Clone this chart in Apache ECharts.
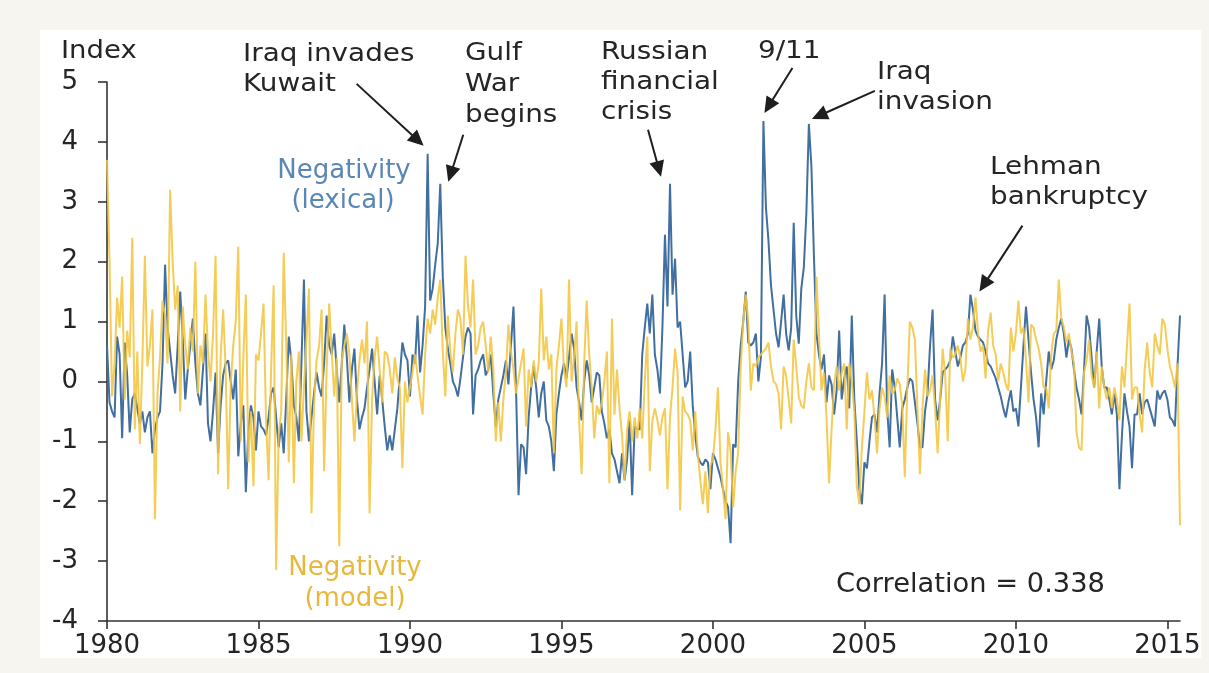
<!DOCTYPE html>
<html>
<head>
<meta charset="utf-8">
<title>Negativity indices, 1980-2015</title>
<script src="https://cdn.jsdelivr.net/npm/echarts@6/dist/echarts.min.js"></script>
<style>
  html, body { margin: 0; padding: 0; background: #f7f5ef; }
  #panel { position: absolute; left: 40px; top: 30px; width: 1161px; height: 628px; background: #ffffff; }
  #chart { position: absolute; left: 0; top: 0; width: 1209px; height: 673px; }
</style>
</head>
<body>
<div id="panel"></div>
<div id="chart"></div>
<script>
// Monthly series, January 1980 onward (one row per year).
const firstYear = 1980;

const lexical = [
  0.6, -0.35, -0.5, -0.6, 0.75, 0.45, -0.95, 0.65, 0.1, -0.85, -0.3, -0.2,
  -0.45, -0.7, -0.5, -0.85, -0.6, -0.5, -1.2, -0.8, -0.6, -0.5, 0.3, 1.95,
  0.9, 0.5, 0.1, -0.2, 0.6, 1.5, 0.7, -0.3, 0.2, 0.6, 1.05, 0.3,
  -0.2, -0.4, 0.2, 0.8, -0.7, -1.0, -0.5, 0.15, -1.2, -0.4, 0.1, 0.3,
  0.35, 0.0, -0.3, 0.2, -1.25, -0.7, -0.4, -1.85, -0.8, -0.4, -0.6, -1.15,
  -0.5, -0.75, -0.8, -0.9, -0.6, -0.2, -0.1, -0.6, -1.1, -0.7, -1.2, -0.3,
  0.75, 0.35, -0.4, -0.6, -1.0, 0.3, 1.7, -0.5, -1.0, -0.6, -0.2, 0.15,
  -0.1, -0.25, 0.3, 1.1, 0.6, 0.45, 0.8, 0.2, -0.35, 0.3, 0.95, 0.4,
  -0.35, 0.2, 0.55, -0.3, -0.8, -0.6, -0.45, -0.1, 0.2, 0.55, 0.0, -0.55,
  0.1, -0.3, -0.75, -1.15, -0.9, -1.15, -0.8, -0.45, 0.1, 0.65, 0.45, 0.35,
  -0.25, 0.45, 0.3, 1.1, 0.15, 0.6, 1.25, 3.8, 1.35, 1.55, 1.95, 2.3,
  3.3, 1.75, 0.9, 0.55, 0.3, 0.0, -0.1, -0.25, 0.05, 0.4, 0.75, 0.9,
  0.8, -0.55, 0.1, 0.2, 0.35, 0.45, 0.1, 0.2, 0.45, -0.2, -0.75, -0.3,
  -0.1, 0.1, 0.35, -0.05, 0.6, 1.25, -0.1, -1.9, -1.05, -1.1, -1.55, -0.6,
  -0.1, 0.25, -0.1, -0.6, -0.2, 0.0, -0.65, -0.75, -1.0, -1.5, -0.55, -0.2,
  0.1, 0.3, 0.05, 0.4, 0.8, 0.55, -0.1, -0.35, -0.65, 0.0, 0.35, 0.1,
  -0.35, -0.1, 0.15, 0.1, -0.5, -0.7, -0.95, -0.8, -1.2, -1.3, -1.5, -1.7,
  -1.2, -1.65, -1.3, -0.65, -1.9, -0.75, -0.8, -0.8, 0.45, 0.9, 1.3, 0.8,
  1.45, 0.45, 0.2, -0.2, 0.9, 2.45, 1.25, 3.3, 1.45, 2.05, 0.9, 1.0,
  0.45, -0.1, 0.0, 0.5, -0.4, -0.9, -1.25, -1.35, -1.4, -1.3, -1.35, -1.8,
  -1.2, -1.3, -1.45, -1.6, -1.8, -2.0, -2.1, -2.7, -1.05, -1.1, 0.0, 0.6,
  1.0, 1.5, 0.65, 0.6, 0.65, 0.8, 0.0, 0.4, 4.35, 2.9, 2.35, 1.6,
  1.2, 0.8, 0.57, 1.0, 1.45, 0.8, 0.52, 0.9, 2.65, 1.1, 0.63, 1.55,
  1.9, 2.8, 4.3, 3.6, 2.1, 0.8, 0.45, 0.2, 0.45, -0.35, 0.1, -0.05,
  -0.55, -0.15, 0.85, -0.3, 0.05, 0.25, -0.45, 1.1, -0.3, -1.0, -1.8, -2.05,
  -1.35, -1.45, -1.0, -0.6, -0.55, -0.85, -0.2, 0.3, 1.45, -0.45, -1.1, 0.2,
  -0.1, -0.6, -1.1, -0.45, -0.3, -0.1, 0.05, 0.0, -0.35, -0.7, -1.1, -1.1,
  -0.5, -0.2, 0.6, 1.2, -0.3, -0.65, -0.3, 0.15, 0.2, 0.25, 0.35, 0.75,
  0.5, 0.25, 0.4, 0.6, 0.65, 0.8, 1.45, 1.2, 0.85, 0.75, 0.7, 0.65,
  0.5, 0.3, 0.25, 0.15, 0.05, -0.1, -0.25, -0.45, -0.6, -0.35, -0.15, -0.5,
  -0.45, -0.75, -0.1, 0.6, 1.25, 0.7, 0.15, -0.3, -0.6, -1.1, -0.2, -0.55,
  0.0, 0.5, 0.2, 0.35, 0.7, 0.9, 1.05, 0.8, 0.4, 0.7, 0.55, 0.2,
  -0.1, -0.3, -0.55, 0.2, 1.1, 0.9, 0.4, -0.1, 0.5, 1.05, 0.25, -0.1,
  -0.1, -0.3, -0.55, -0.2, -0.55, -1.8, -0.9, -0.2, -0.5, -0.75, -1.45, -0.55,
  -0.55, -0.2, -0.55, -0.35, -0.3, -0.45, -0.6, -0.75, -0.15, -0.3, -0.2, -0.15,
  -0.3, -0.6, -0.65, -0.75, 0.25, 1.1
];

const model = [
  3.7, 2.0, -0.25, 0.3, 1.4, 0.9, 1.75, -0.3, 0.85, 0.4, 2.4, -0.8,
  0.5, -1.05, 0.3, 2.1, 0.25, 0.6, 1.2, -2.3, -0.2, 0.4, 1.35, 1.1,
  0.3, 3.2, 2.0, 1.2, 1.6, -0.5, 1.25, 0.6, 0.2, 0.9, 0.5, 2.0,
  -0.2, 0.6, 0.3, 1.45, 0.5, 0.0, 0.8, 2.1, -1.55, 0.4, 1.2, 0.2,
  -1.8, -0.05, 0.6, 1.0, 2.25, -1.0, 0.4, 1.45, -1.35, -0.5, -1.75, 0.45,
  0.35, 0.8, 1.3, -0.65, -1.65, 0.2, 1.6, -3.15, -0.9, -0.5, 2.15, 0.6,
  -1.35, 0.45, -1.7, 0.0, 0.5, -1.0, -0.1, 0.7, 1.55, -2.2, -0.4, 0.35,
  0.6, 1.2, -1.5, 0.2, 1.3, 0.5, -0.25, 0.4, -2.75, 0.35, 0.6, 0.8,
  0.45, -0.3, -1.0, -0.2, 0.35, 0.7, 0.3, 1.0, -2.2, -0.3, 0.4, 0.75,
  0.2, -0.35, 0.5, 0.45, 0.2, -0.2, 0.4, 0.05, -0.1, -1.45, 0.0, -0.35,
  -0.1, 0.15, 0.45, 0.1, -0.25, -0.55, 0.45, 1.05, 0.8, 1.2, 0.95, 1.4,
  1.7, 0.5, -0.25, 1.1, 0.5, 0.15, 0.8, 1.2, 1.05, 0.45, 2.1, 1.25,
  0.9, 1.7, 0.45, 0.6, 0.9, 1.0, 0.6, 0.15, 0.75, 0.2, -1.0, -0.35,
  -1.0, -0.3, 0.15, 0.95, 0.5, 0.2, -0.2, 0.05, 0.3, 0.55, -0.75, 0.2,
  -0.1, 0.35, 0.0, 0.3, 1.55, 0.35, 0.75, 0.2, 0.45, -1.2, 0.2, 0.6,
  1.05, 0.2, -0.1, 1.7, 0.0, 0.4, 1.0, -0.65, -1.55, 0.3, 1.35, 0.45,
  -0.1, -0.95, -0.4, -0.55, -0.35, 0.0, 0.5, -1.7, 1.05, -0.55, 0.2, -0.45,
  -0.9, -1.65, -0.8, -0.5, -1.0, -0.6, -0.95, -0.45, -0.95, 0.0, 0.75, -1.5,
  -0.65, -0.45, -0.65, -0.9, -0.6, -0.45, -1.8, -0.6, -0.1, 0.55, 0.15, -2.15,
  -0.25, -0.5, -0.55, -0.65, -1.15, -0.5, -1.2, -1.65, -2.05, -1.5, -2.2, -1.4,
  -1.3, -0.8, -0.1, -1.35, -1.8, -2.3, -0.85, -1.15, -2.1, -1.5, -1.2, 0.25,
  1.0, 1.45, 1.0, -0.15, 0.3, 0.25, 0.4, 0.45, 0.5, 0.55, 0.65, 0.25,
  0.0, -0.05, -0.2, -0.8, 0.25, 0.1, -0.3, -0.7, 0.7, 0.25, -0.25, -0.4,
  -0.45, 0.0, 0.3, -0.1, -0.15, 1.75, 0.8, -0.15, 0.15, -0.6, -1.7, -0.8,
  -0.05, 0.25, -0.15, 0.15, 0.3, -0.8, 0.3, 0.0, -0.5, -1.75, -2.05, -1.1,
  -0.5, 0.15, -0.3, -0.15, -0.6, -1.2, -0.45, -0.1, -0.25, -0.6, 0.1, -0.2,
  -0.15, 0.05, -0.05, -0.4, -1.6, -0.1, 1.0, 0.9, 0.7, -0.45, -1.55, -0.45,
  0.2, -0.25, -0.15, 0.1, -0.45, -1.2, -0.3, 0.55, 0.1, -1.0, 0.55, 0.4,
  0.45, 0.6, 0.4, 0.0, 0.2, 1.05, 0.7, 0.9, 1.4, 0.8, 0.5, 0.6,
  0.05, 0.85, 1.15, 0.6, 0.45, 0.0, 0.3, 0.15, -0.05, -0.15, 0.9, 0.5,
  0.8, 1.35, 0.8, 0.9, 0.35, -0.35, 0.95, 0.9, 0.7, 0.55, 0.3, -0.1,
  -0.1, -0.45, 0.45, 0.8, 0.85, 1.7, 1.05, 0.9, 0.65, 0.8, 0.5, 0.3,
  -0.85, -1.1, -1.15, 0.15, 0.35, 0.7, 0.1, -0.1, 0.5, -0.45, 0.25, -0.1,
  -0.3, -0.1, -0.45, -0.1, -0.3, -0.65, 0.25, -0.1, 0.6, 1.3, -0.3, -0.1,
  -0.1, -0.55, -0.85, 0.2, 0.65, 0.15, -0.1, 0.8, 0.6, 0.45, 1.05, 0.95,
  0.55, 0.25, 0.1, -0.1, 0.3, -2.4
];

const xTicks = [1980, 1985, 1990, 1995, 2000, 2005, 2010, 2015];
const yMin = -4, yMax = 5;
const correlation = 0.338;

// Event call-outs: which month of the lexical series each arrow points at.
const events = [
  { lines: ['Iraq invades', 'Kuwait'],          month: 127 },
  { lines: ['Gulf', 'War', 'begins'],           month: 132 },
  { lines: ['Russian', 'financial', 'crisis'],  month: 223 },
  { lines: ['9/11'],                            month: 260 },
  { lines: ['Iraq', 'invasion'],                month: 278 },
  { lines: ['Lehman', 'bankruptcy'],            month: 342 }
];

// Month positions on the time axis
const months = lexical.map((_, i) => firstYear + i / 12);
const lexicalPts = lexical.map((v, i) => [months[i], v]);
const modelPts = model.map((v, i) => [months[i], v]);

const FONT = '"DejaVu Sans", Verdana, sans-serif';
const INK = '#252525';
const BLUE = '#416fa0';
const YELLOW = '#f3c53f';

const chart = echarts.init(document.getElementById('chart'), null, { renderer: 'canvas' });

chart.setOption({
  animation: false,
  backgroundColor: 'transparent',
  grid: { left: 107, right: 29, top: 82, bottom: 52, containLabel: false },
  xAxis: {
    type: 'value',
    min: firstYear,
    max: months[months.length - 1],
    axisLine: { onZero: false, lineStyle: { color: '#333', width: 1.6 } },
    axisTick: { show: true, inside: false, length: 8, customValues: xTicks,
                lineStyle: { color: '#333', width: 1.6 } },
    axisLabel: { customValues: xTicks, color: INK, fontFamily: FONT, fontSize: 26, margin: 12,
                 formatter: v => String(Math.round(v)) },
    splitLine: { show: false }
  },
  yAxis: {
    type: 'value',
    min: yMin,
    max: yMax,
    interval: 1,
    axisLine: { show: true, lineStyle: { color: '#333', width: 1.6 } },
    axisTick: { show: true, inside: false, length: 9, lineStyle: { color: '#333', width: 1.6 } },
    axisLabel: { color: INK, fontFamily: FONT, fontSize: 26, margin: 29 },
    splitLine: { show: false }
  },
  series: [
    {
      name: 'Negativity (lexical)',
      type: 'line',
      data: lexicalPts,
      showSymbol: false,
      lineStyle: { color: BLUE, width: 2 },
      z: 2
    },
    {
      name: 'Negativity (model)',
      type: 'line',
      data: modelPts,
      showSymbol: false,
      lineStyle: { color: YELLOW, width: 2, opacity: 0.88 },
      z: 3
    }
  ]
});

// ---- annotations ----
function textEl(str, x, y, opts, sx) {
  return {
    type: 'text', x: x, y: y, z: 100, scaleX: sx || 1,
    style: Object.assign({
      text: str, font: '24px ' + FONT, fill: INK,
      align: 'left', verticalAlign: 'middle'
    }, opts || {})
  };
}

function arrowEls(tail, tip) {
  const dx = tip[0] - tail[0], dy = tip[1] - tail[1];
  const len = Math.hypot(dx, dy);
  const ux = dx / len, uy = dy / len;
  const head = 16, half = 7.5;
  const bx = tip[0] - ux * head, by = tip[1] - uy * head;
  return [
    { type: 'line', z: 100,
      shape: { x1: tail[0], y1: tail[1], x2: bx + ux * 2, y2: by + uy * 2 },
      style: { stroke: '#1e1e1e', lineWidth: 2 } },
    { type: 'polygon', z: 100,
      shape: { points: [[tip[0], tip[1]], [bx - uy * half, by + ux * half], [bx + uy * half, by - ux * half]] },
      style: { fill: '#1e1e1e' } }
  ];
}

// Label placement and arrow geometry (pixels; arrow tips relative to the marked month)
const layout = [
  { x: 243, y: 55,  step: 30, tip: [-4, -8],  tail: [-67, -62] },
  { x: 465, y: 54,  step: 31, tip: [8, -2],   tail: [15, -47] },
  { x: 601, y: 53,  step: 30, tip: [-9, -7],  tail: [-13, -47] },
  { x: 758, y: 52,  step: 30, tip: [1, -8],   tail: [28, -45] },
  { x: 877, y: 73,  step: 30, tip: [3, -5],   tail: [63, -28] },
  { x: 990, y: 168, step: 30, tip: [9, -3],   tail: [43, -66] }
];
const NOTE_STRETCH = 1.16;

const g = [];
g.push(textEl('Index', 61, 51, { font: '25px ' + FONT }, 1.1));

events.forEach((ev, k) => {
  const L = layout[k];
  ev.lines.forEach((ln, j) => g.push(textEl(ln, L.x, L.y + j * L.step, null, NOTE_STRETCH)));
  const p = chart.convertToPixel({ gridIndex: 0 }, [months[ev.month], lexical[ev.month]]);
  const tip = [p[0] + L.tip[0], p[1] + L.tip[1]];
  const tail = [tip[0] + L.tail[0], tip[1] + L.tail[1]];
  arrowEls(tail, tip).forEach(e => g.push(e));
});

g.push(textEl('Negativity', 344, 171, { fill: '#5a86b6', align: 'center', font: '26px ' + FONT }));
g.push(textEl('(lexical)', 343, 201, { fill: '#5a86b6', align: 'center', font: '26px ' + FONT }));
g.push(textEl('Negativity', 355, 568, { fill: '#e8b83c', align: 'center', font: '26px ' + FONT }));
g.push(textEl('(model)', 355, 599, { fill: '#e8b83c', align: 'center', font: '26px ' + FONT }));
g.push(textEl('Correlation = ' + correlation.toFixed(3), 836, 585, { font: '26px ' + FONT }, 1.05));

chart.setOption({ graphic: { elements: g } });
</script>
</body>
</html>
